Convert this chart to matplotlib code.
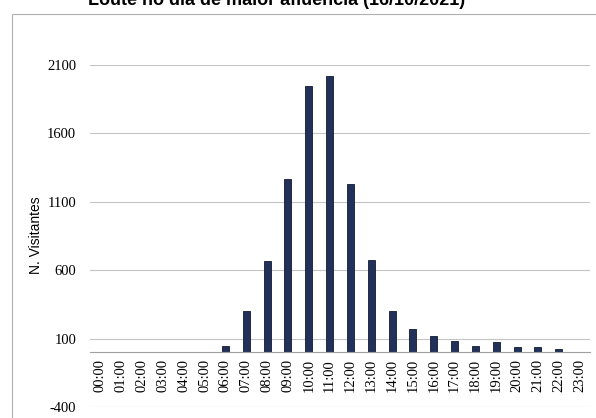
import matplotlib
matplotlib.use('Agg')
import matplotlib.pyplot as plt
from matplotlib.patches import Rectangle

hours = ['00:00', '01:00', '02:00', '03:00', '04:00', '05:00', '06:00', '07:00',
         '08:00', '09:00', '10:00', '11:00', '12:00', '13:00', '14:00', '15:00',
         '16:00', '17:00', '18:00', '19:00', '20:00', '21:00', '22:00', '23:00']
visitors = [0, 0, 0, 0, 0, 0, 48, 300, 668, 1268, 1948, 2018, 1228, 678,
            305, 170, 116, 85, 45, 72, 42, 39, 22, 0]
y_ticks = [-400, 100, 600, 1100, 1600, 2100]

W, H = 596, 418
fig = plt.figure(figsize=(W / 100, H / 100), dpi=100)
ax = fig.add_axes([90 / W, 1 - 407 / H, 500 / W, (407 - 65) / H])

x = list(range(len(hours)))
ax.bar(x, visitors, width=0.34, color='#22315a', edgecolor='#111a30', linewidth=0.6, zorder=3)

# spine first: moving it resets the tick labels
for side in ['left', 'right', 'top']:
    ax.spines[side].set_visible(False)
ax.spines['bottom'].set_position(('data', 0))
ax.spines['bottom'].set_color('#a0a0a0')
ax.spines['bottom'].set_zorder(4)

ax.set_xlim(-0.5, len(hours) - 0.5)
ax.set_ylim(-400, 2100)
ax.set_yticks(y_ticks)
ax.set_yticklabels([str(v) for v in y_ticks], family='Liberation Serif', fontsize=10.5)
ax.set_xticks(x)
ax.set_xticklabels(hours, rotation=90, family='Liberation Serif', fontsize=10.5)
ax.tick_params(axis='y', length=0, pad=10)
ax.tick_params(axis='x', length=0, pad=5)
ax.grid(axis='y', color='#c4c4c4', linewidth=0.8, zorder=0)

fig.text(36 / W, 1 - 235 / H, 'N. Visitantes', rotation=90, ha='center', va='center',
         family='Liberation Sans', fontsize=10)
fig.text(277 / W, 1 - 5 / H, 'Loute no dia de maior afluência (16/10/2021)',
         ha='center', va='baseline', family='Liberation Sans', fontweight='bold', fontsize=13)

fig.patches.append(Rectangle((12 / W, -0.1), 1.2, 1.1 - 14 / H, transform=fig.transFigure,
                             fill=False, edgecolor='#b0b0b0', linewidth=0.8))

fig.savefig('out.png', dpi=100)
